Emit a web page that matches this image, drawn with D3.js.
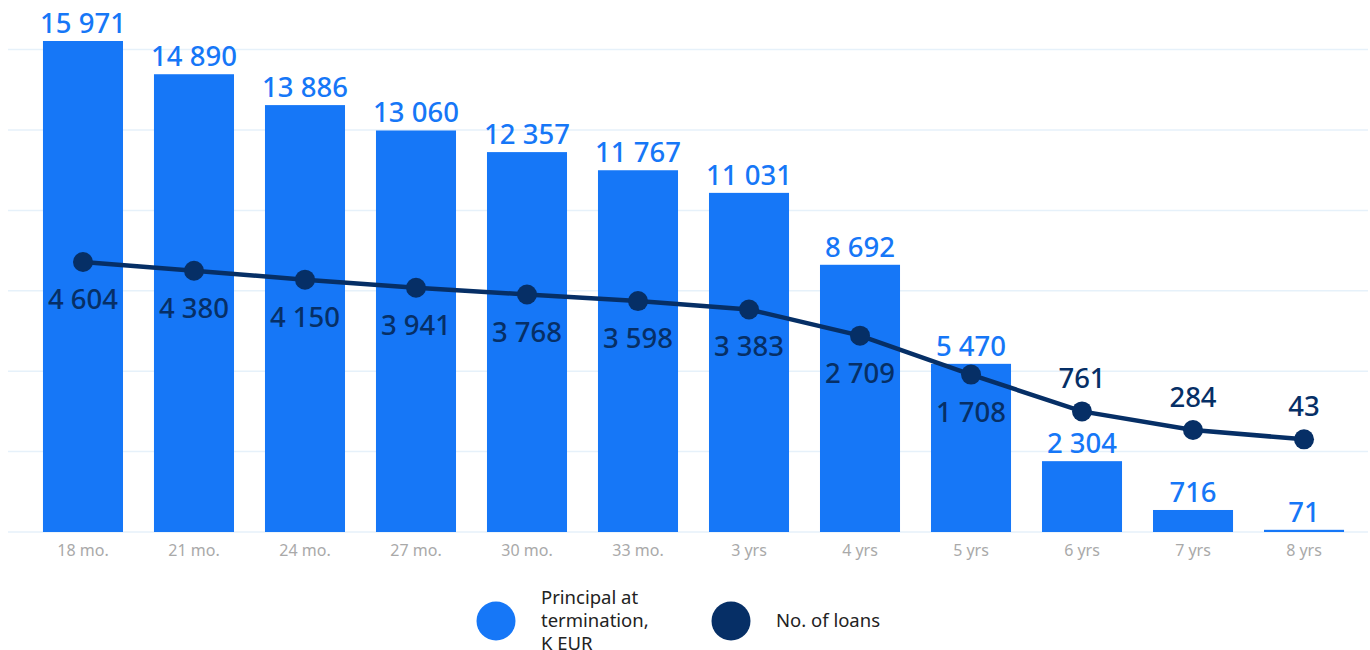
<!DOCTYPE html>
<html>
<head>
<meta charset="utf-8">
<script src="https://cdn.jsdelivr.net/npm/d3@7"></script>
<style>
  body { margin: 0; background: #fff; }
  text { font-family: "Noto Sans", "Open Sans", sans-serif; }
</style>
</head>
<body>
<div id="chart"></div>
<script>
const categories = ['18 mo.', '21 mo.', '24 mo.', '27 mo.', '30 mo.', '33 mo.', '3 yrs', '4 yrs', '5 yrs', '6 yrs', '7 yrs', '8 yrs'];
const principal = [15971, 14890, 13886, 13060, 12357, 11767, 11031, 8692, 5470, 2304, 716, 71];
const loans = [4604, 4380, 4150, 3941, 3768, 3598, 3383, 2709, 1708, 761, 284, 43];
const legendLabels = [['Principal at', 'termination,', 'K EUR'], ['No. of loans']];

const barColor = '#1677f7';
const lineColor = '#062f66';
const fmt = (v) => d3.format(',')(v).replace(/,/g, ' ');

const width = 1370, height = 650;
const baseY = 532;

const svg = d3.select('#chart')
    .append('svg')
    .attr('width', width)
    .attr('height', height);

const x = d3.scaleBand()
    .domain(categories)
    .range([12, 1375])
    .padding(0.279);

const yBar = d3.scaleLinear()
    .domain([0, 15971])
    .range([baseY, 41]);

// second series sits on its own (hidden) axis
const yLine = d3.scaleLinear()
    .domain([0, 4604])
    .range([441, 262]);

// gridlines
const gridYs = d3.range(0, 7).map(i => baseY - i * 80.4);
svg.append('g')
    .selectAll('line')
    .data(gridYs)
    .enter().append('line')
    .attr('x1', 8)
    .attr('x2', 1368)
    .attr('y1', d => d)
    .attr('y2', d => d)
    .attr('stroke', '#e6f1fa')
    .attr('stroke-width', 1.5);

// bars
svg.append('g')
    .selectAll('rect')
    .data(principal)
    .enter().append('rect')
    .attr('x', (d, i) => x(categories[i]))
    .attr('width', x.bandwidth())
    .attr('y', d => yBar(d))
    .attr('height', d => baseY - yBar(d))
    .attr('fill', barColor);

svg.append('g')
    .selectAll('text')
    .data(principal)
    .enter().append('text')
    .attr('x', (d, i) => x(categories[i]) + x.bandwidth() / 2)
    .attr('y', d => yBar(d) - 8)
    .attr('text-anchor', 'middle')
    .attr('font-size', 27.5)
    .attr('font-weight', 500)
    .attr('fill', barColor)
    .text(d => fmt(d));

// x labels
svg.append('g')
    .selectAll('text')
    .data(categories)
    .enter().append('text')
    .attr('x', d => x(d) + x.bandwidth() / 2)
    .attr('y', 556)
    .attr('text-anchor', 'middle')
    .attr('font-size', 16)
    .attr('fill', '#a9a9a9')
    .text(d => d);

// line
const cx = (i) => x(categories[i]) + x.bandwidth() / 2;
const line = d3.line()
    .x((d, i) => cx(i))
    .y(d => yLine(d));

svg.append('path')
    .datum(loans)
    .attr('d', line)
    .attr('fill', 'none')
    .attr('stroke', lineColor)
    .attr('stroke-width', 4.5);

svg.append('g')
    .selectAll('circle')
    .data(loans)
    .enter().append('circle')
    .attr('cx', (d, i) => cx(i))
    .attr('cy', d => yLine(d))
    .attr('r', 10)
    .attr('fill', lineColor);

svg.append('g')
    .selectAll('text')
    .data(loans)
    .enter().append('text')
    .attr('x', (d, i) => cx(i))
    .attr('y', (d, i) => i < 9 ? yLine(d) + 47 : yLine(d) - 23)
    .attr('text-anchor', 'middle')
    .attr('font-size', 27.5)
    .attr('font-weight', 500)
    .attr('fill', lineColor)
    .text(d => fmt(d));

// legend
const legend = svg.append('g');
const legendItems = [
    { x: 496, color: barColor, lines: legendLabels[0] },
    { x: 731, color: lineColor, lines: legendLabels[1] }
];
legendItems.forEach(item => {
    legend.append('circle')
        .attr('cx', item.x)
        .attr('cy', 621)
        .attr('r', 19.5)
        .attr('fill', item.color);
    const t = legend.append('text')
        .attr('x', item.x + 45)
        .attr('font-size', 18.5)
        .attr('fill', '#222');
    const n = item.lines.length;
    item.lines.forEach((s, j) => {
        t.append('tspan')
            .attr('x', item.x + 45)
            .attr('y', 627 + (j - (n - 1) / 2) * 23)
            .text(s);
    });
});
</script>
</body>
</html>
